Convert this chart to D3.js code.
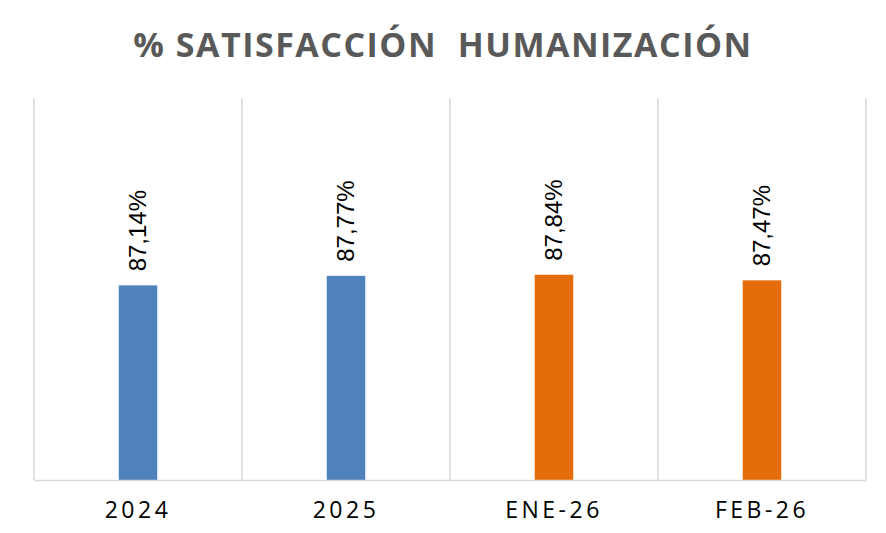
<!doctype html>
<html>
<head>
<meta charset="utf-8">
<title>% Satisfacción Humanización</title>
<style>
  body { margin:0; background:#fff; }
  svg { display:block; }
  .title { font-family:"Open Sans", sans-serif; font-weight:bold; font-size:34px; fill:#595959; letter-spacing:1.5px; }
  .grid line { stroke:#d9d9d9; stroke-width:1.5px; }
  .barlabel { font-family:"Liberation Sans", sans-serif; font-size:24px; fill:#000; }
  .xaxis text { font-family:"Open Sans", sans-serif; font-size:23px; fill:#000; letter-spacing:3.5px; }
  .xaxis path, .xaxis line { stroke:#d9d9d9; stroke-width:1.5px; }
</style>
<script src="https://d3js.org/d3.v7.min.js"></script>
</head>
<body>
<svg id="chart" width="886" height="533"></svg>
<script>
  // datos
  var categorias = ["2024", "2025", "ENE-26", "FEB-26"]
  var valores = [87.14, 87.77, 87.84, 87.47]
  var etiquetas = ["87,14%", "87,77%", "87,84%", "87,47%"]
  var colores = ["#4f81bd", "#4f81bd", "#e46c0a", "#e46c0a"]
  var yLimites = [74.3, 99.5]

  var svg = d3.select("#chart")
  var mLeft = 34, mRight = 866, mTop = 98, mBottom = 480

  var x = d3.scaleBand().domain(categorias).range([mLeft, mRight])
  var y = d3.scaleLinear().domain(yLimites).range([mBottom, mTop])

  svg.append("text")
     .attr("class", "title")
     .attr("x", 443)
     .attr("y", 57)
     .attr("text-anchor", "middle")
     .style("white-space", "pre")
     .text("% SATISFACCIÓN  HUMANIZACIÓN")

  // lineas verticales entre categorias
  var bordes = categorias.map(function(d){ return x(d) }).concat([x.range()[1]])
  svg.append("g")
     .attr("class", "grid")
     .selectAll("line")
     .data(bordes)
     .enter()
     .append("line")
     .attr("x1", function(d){ return d })
     .attr("x2", function(d){ return d })
     .attr("y1", mTop)
     .attr("y2", mBottom)

  var barW = 38.5
  svg.append("g")
     .selectAll("rect")
     .data(valores)
     .enter()
     .append("rect")
     .attr("x", function(d,i){ return x(categorias[i]) + x.bandwidth()/2 - barW/2 })
     .attr("y", function(d){ return y(d) })
     .attr("width", barW)
     .attr("height", function(d){ return mBottom - y(d) })
     .attr("fill", function(d,i){ return colores[i] })

  svg.append("g")
     .selectAll("text")
     .data(valores)
     .enter()
     .append("text")
     .attr("class", "barlabel")
     .attr("transform", function(d,i){
        var cx = x(categorias[i]) + x.bandwidth()/2 + 8
        return "translate(" + cx + "," + (y(d) - 14) + ") rotate(-90)"
     })
     .text(function(d,i){ return etiquetas[i] })

  var xAxis = svg.append("g")
     .attr("class", "xaxis")
     .attr("transform", "translate(0," + mBottom + ")")
     .call(d3.axisBottom(x).tickSize(0).tickPadding(22).tickSizeOuter(0))
  xAxis.selectAll("text").attr("dy", "0.71em")
</script>
</body>
</html>
